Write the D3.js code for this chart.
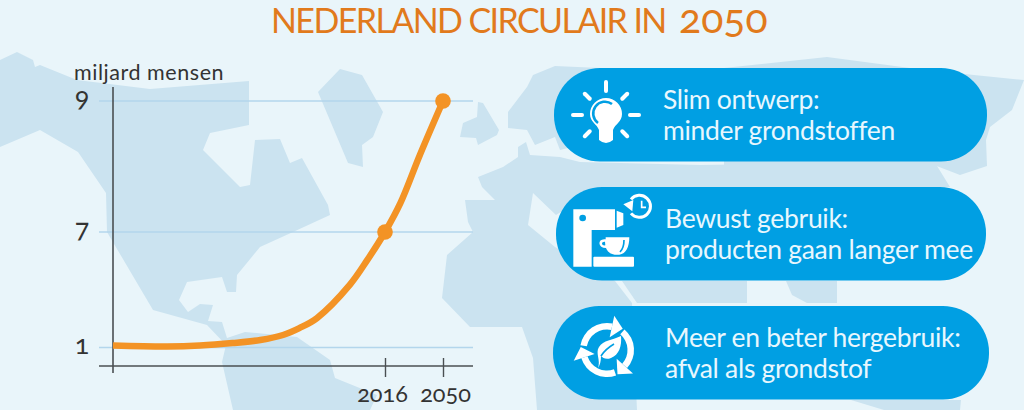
<!DOCTYPE html>
<html lang="nl">
<head>
<meta charset="utf-8">
<title>Nederland circulair in 2050</title>
<script src="https://d3js.org/d3.v7.min.js"></script>
<style>
    html, body { margin: 0; padding: 0; background: #e9f5fa; overflow: hidden; }
    svg { display: block; }
    text { font-family: Lato, "Open Sans", sans-serif; }
    .nums { font-variant-numeric: oldstyle-nums; font-feature-settings: "onum"; }
</style>
</head>
<body>
<svg id="chart" width="1024" height="410"></svg>
<script>
// curve
const years = [1800, 1843, 1869, 1895, 1917, 1935, 1948, 1962, 1988, 2002, 2016, 2025, 2036.5, 2050];
const people = [1.1, 1.05, 1.1, 1.23, 1.39, 1.65, 2.01, 2.53, 4.25, 5.55, 7.0, 7.44, 8.18, 9.0];
const markerYears = [2016, 2050];
const markerPeople = [7, 9];
const yTicks = [1, 7, 9];
const xTicks = [2016, 2050];

const titleWords = "NEDERLAND CIRCULAIR IN";
const titleYear = "2050";
const unitText = "miljard mensen";
const pillFirst = ["Slim ontwerp:", "Bewust gebruik:", "Meer en beter hergebruik:"];
const pillSecond = ["minder grondstoffen", "producten gaan langer mee", "afval als grondstof"];

// background world map, traced by hand
const landShapes = [
    [[0,60],[17,52],[33,60],[35,67],[40,65],[77,80],[150,89],[249,81],[249,125],[210,133],[203,150],[240,187],[250,185],[255,140],[280,139],[290,163],[302,158],[328,205],[330,215],[293,232],[260,247],[237,275],[236,292],[227,292],[222,277],[187,282],[179,300],[188,312],[200,304],[213,305],[208,321],[222,322],[227,338],[245,332],[297,337],[330,360],[335,378],[377,395],[370,410],[233,410],[222,362],[226,345],[207,325],[153,310],[107,232],[106,193],[78,152],[40,130],[0,147]],
    [[318,92],[340,69],[362,75],[383,112],[373,137],[362,145],[363,167],[348,163]],
    [[460,137],[463,123],[477,117],[478,102],[483,103],[499,130],[497,135],[478,145],[476,138]],
    [[508,112],[527,87],[533,75],[555,66],[600,68],[600,140],[560,150],[555,137],[535,145],[527,130],[508,128]],
    [[478,177],[482,187],[495,200],[465,200],[468,222],[473,232],[447,255],[442,298],[470,327],[522,327],[533,358],[537,410],[637,410],[632,303],[615,281],[555,247],[528,225],[533,193],[556,215],[580,200],[950,187],[934,161],[700,165],[580,162],[560,157],[530,155],[526,142],[518,147],[518,157],[503,167]],
    [[724,68],[827,57],[910,68],[974,75],[1024,80],[1012,110],[990,127],[986,140],[987,166],[960,175],[934,165],[724,165]],
    [[622,281],[747,281],[747,303],[637,303]],
    [[786,281],[837,281],[837,303],[807,303],[792,295]],
    [[851,400],[884,410],[960,410],[961,400]]
];

const svg = d3.select("#chart");
const orange = "#f39325";
const axisColor = "#4a4f52";
const pillColor = "#009fe3";
const pillText = "#e8f7fe";

svg.append("g").selectAll("path")
    .data(landShapes)
    .join("path")
    .attr("d", d => d3.line().curve(d3.curveLinearClosed)(d))
    .attr("fill", "#cbe3f0");

const title = svg.append("text")
    .attr("y", 33)
    .attr("fill", "#e17a1c");
title.append("tspan")
    .attr("x", 271)
    .attr("font-size", 34).attr("letter-spacing", -1.6)
    .text(titleWords);
title.append("tspan")
    .attr("class", "nums")
    .attr("x", 679)
    .attr("font-size", 41)
    .text(titleYear);

// not linear in the source, so the scales are piecewise
const x = d3.scaleLinear().domain([1800, 2016, 2050]).range([113, 385, 443]);
const y = d3.scaleLinear().domain([1, 7, 9]).range([347.5, 232, 101]);

svg.append("g").selectAll("line")
    .data(yTicks)
    .join("line")
    .attr("x1", 99).attr("x2", 473)
    .attr("y1", d => y(d)).attr("y2", d => y(d))
    .attr("stroke", "#b3d6ec").attr("stroke-width", 1.6);

const xAxis = svg.append("g")
    .attr("transform", "translate(0,366)")
    .call(d3.axisBottom(x).tickValues(xTicks).tickFormat(d3.format("d")).tickSize(11));
xAxis.select(".domain").remove();
xAxis.selectAll(".tick line").attr("y1", -8).attr("stroke", axisColor).attr("stroke-width", 1.4);
xAxis.selectAll(".tick text")
    .attr("class", "nums").attr("y", 35.5).attr("dy", 0)
    .attr("x", d => d == 2016 ? -3 : 2)
    .attr("font-size", 23.5).attr("font-family", null).attr("fill", "#333");

svg.append("line").attr("x1", 99).attr("x2", 473).attr("y1", 366).attr("y2", 366)
    .attr("stroke", axisColor).attr("stroke-width", 1.6);
svg.append("line").attr("x1", 113).attr("x2", 113).attr("y1", 87).attr("y2", 373)
    .attr("stroke", axisColor).attr("stroke-width", 1.6);

svg.append("g").selectAll("text")
    .data(yTicks)
    .join("text")
    .attr("class", "nums")
    .attr("x", 82).attr("y", d => y(d) + 6)
    .attr("text-anchor", "middle")
    .attr("font-size", 27).attr("fill", "#333")
    .text(d => d);

svg.append("text")
    .attr("x", 74).attr("y", 80)
    .attr("font-size", 21.5).attr("letter-spacing", 0.55).attr("fill", "#333")
    .text(unitText);

const curve = d3.line()
    .x((d, i) => x(years[i]))
    .y(d => y(d))
    .curve(d3.curveCatmullRom);

svg.append("path")
    .attr("d", curve(people))
    .attr("fill", "none")
    .attr("stroke", orange).attr("stroke-width", 6.5);

svg.append("g").selectAll("circle")
    .data(markerYears)
    .join("circle")
    .attr("cx", d => x(d))
    .attr("cy", (d, i) => y(markerPeople[i]))
    .attr("r", 7.8)
    .attr("fill", orange);

// pills
const pillTop = [68, 187, 306];
const pillLeft = [554, 556, 553];
const pillRight = [987, 986, 989];
const pillHeight = 93.5;
const pills = svg.append("g");
pillTop.forEach((top, i) => {
    pills.append("rect")
        .attr("x", pillLeft[i]).attr("y", top)
        .attr("width", pillRight[i] - pillLeft[i]).attr("height", pillHeight)
        .attr("rx", 46).attr("fill", pillColor);
    [pillFirst[i], pillSecond[i]].forEach((line, k) => {
        pills.append("text")
            .attr("x", i == 0 ? 663 : 665).attr("y", top + (k == 0 ? 41 : 72))
            .attr("font-size", 26.5).attr("letter-spacing", -0.3).attr("fill", pillText)
            .text(line);
    });
});

// icons
const white = "#fff";

const bulb = svg.append("g").attr("transform", "translate(606,115)");
bulb.selectAll("line")
    .data(d3.range(0, 360, 45).filter(a => a != 180))
    .join("line")
    .attr("y1", d => d % 90 ? -23 : -24).attr("y2", d => d % 90 ? -30 : -33)
    .attr("transform", d => `rotate(${d})`)
    .attr("stroke", white).attr("stroke-width", 4).attr("stroke-linecap", "round");
bulb.append("path")
    .attr("d", "M-7,15 C-9,9 -16,7 -16,-1 A16,16 0 1 1 16,-1 C16,7 9,9 7,15 L7,25 Q0,31 -7,25 Z")
    .attr("fill", white);
bulb.append("path")
    .attr("d", "M6,-11 A11,11 0 0 0 -8,8")
    .attr("fill", "none").attr("stroke", pillColor).attr("stroke-width", 2.6);

const coffee = svg.append("g").attr("transform", "translate(560,190) scale(0.3333)");
coffee.append("path").attr("d", "M40,58 H165 V120 H95 V230 H40 Z").attr("fill", white);
coffee.append("rect").attr("x", 100).attr("y", 200).attr("width", 122).attr("height", 30).attr("rx", 3).attr("fill", white);
coffee.append("path").attr("d", "M170,62 L190,70 V105 L170,113 Z").attr("fill", white);
coffee.append("circle").attr("cx", 68).attr("cy", 84).attr("r", 10).attr("fill", pillColor);
coffee.append("path")
    .attr("d", "M137,142 H208 C208,170 198,192 178,194 H164 C150,192 142,184 138,174 C112,174 112,144 137,148 Z")
    .attr("fill", white);
coffee.append("path").attr("d", "M135,155 C122,154 124,168 136,166 Z").attr("fill", pillColor);
coffee.append("path").attr("d", "M192,150 C192,168 188,178 180,186").attr("fill", "none").attr("stroke", pillColor).attr("stroke-width", 5);
coffee.append("path")
    .attr("d", "M213,28 A33,33 0 1 1 213,70")
    .attr("fill", "none").attr("stroke", white).attr("stroke-width", 9);
coffee.append("path").attr("d", "M190,43 L220,30 L217,64 Z").attr("fill", white);
coffee.append("path").attr("d", "M245,32 V52 H258").attr("fill", "none").attr("stroke", white).attr("stroke-width", 5);

const recycle = svg.append("g").attr("transform", "translate(607,350)");
const ring = d3.arc().innerRadius(20.5).outerRadius(27);
[12, 132, 252].forEach(a => {
    const g = recycle.append("g").attr("transform", `rotate(${a})`);
    g.append("path")
        .attr("d", ring({ startAngle: -1.6, endAngle: 0 }))
        .attr("fill", white);
    g.append("path").attr("d", "M0,-35 L11,-24 L0,-13 Z").attr("fill", white);
});
recycle.append("path")
    .attr("d", "M-9,18 C-6,10 -12,3 -8,-3 C-4,-10 6,-10 14,-14 C15,-4 12,5 4,8 C-1,10 -4,8 -6,6 C-6,11 -7,15 -9,18 Z")
    .attr("fill", white);
recycle.append("path").attr("d", "M-6,6 C-3,1 2,-3 7,-6").attr("fill", "none").attr("stroke", pillColor).attr("stroke-width", 1.6);
</script>
</body>
</html>
